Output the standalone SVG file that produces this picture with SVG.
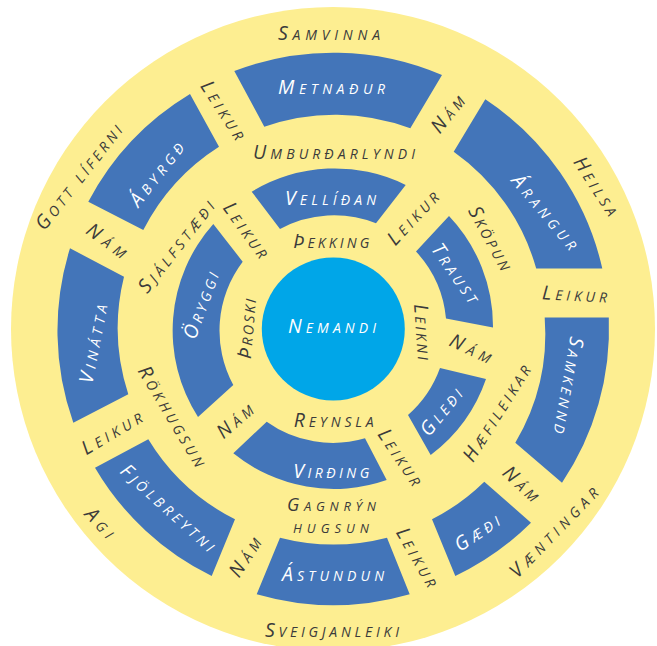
<svg xmlns="http://www.w3.org/2000/svg" width="657" height="646" viewBox="0 0 657 646">
<style>
.t{font-family:"Open Sans","DejaVu Sans",sans-serif;font-style:italic;font-variant:small-caps;font-size:19.5px;fill:#3b3b3b;text-anchor:middle;}
.w{fill:#ffffff;}
.s{font-size:18px;}
.seg{fill:#4375B9;}
</style>
<rect width="657" height="646" fill="#ffffff"/>
<circle id="outer-ring" cx="333" cy="329" r="322" fill="#FDEE91"/>

<g id="middle-ring">
<g id="metnadur"><path class="seg" d="M234.3,71 A276,276 0 0 1 442,75 L410.3,128.3 A214,214 0 0 0 264.3,126.7 Z"/>
<text class="t w" x="331.5" y="93.5" textLength="107">Metnaður</text></g>
<g id="arangur"><path class="seg" d="M485.3,99.3 A276,276 0 0 1 602.3,268.5 L536.2,268.5 A214,214 0 0 0 453.7,151.7 Z"/>
<text class="t w" transform="translate(544,213) rotate(50)" x="0" y="5" textLength="92">Árangur</text></g>
<g id="samkennd"><path class="seg" d="M608.8,317.5 A276,276 0 0 1 562,482.7 L515.3,442.7 A214,214 0 0 0 544.7,317.5 Z"/>
<text class="t w" transform="translate(567,385) rotate(100)" x="0" y="5" textLength="98">Samkennd</text></g>
<g id="gaedi"><path class="seg" d="M531,522.7 A276,276 0 0 1 455.3,576 L432,519.3 A214,214 0 0 0 484.3,481.7 Z"/>
<text class="t w" transform="translate(478,534) rotate(-34)" x="0" y="5" textLength="50">Gæði</text></g>
<g id="astundun"><path class="seg" d="M409.7,594.3 A276,276 0 0 1 256.7,594.3 L280,537.7 A214,214 0 0 0 387,537.7 Z"/>
<text class="t w" x="333" y="581" textLength="102">Ástundun</text></g>
<g id="fjolbreytni"><path class="seg" d="M211.7,576 A276,276 0 0 1 95,467.7 L148.3,439.3 A214,214 0 0 0 235,519.3 Z"/>
<text class="t w" transform="translate(167,509) rotate(42)" x="0" y="5" textLength="120">Fjölbreytni</text></g>
<g id="vinatta"><path class="seg" d="M73.3,422.7 A276,276 0 0 1 70,248.3 L124,276.7 A214,214 0 0 0 128.3,394.3 Z"/>
<text class="t w" transform="translate(95,344) rotate(-79)" x="0" y="5" textLength="80">Vinátta</text></g>
<g id="abyrgd"><path class="seg" d="M88.3,201.7 A276,276 0 0 1 190,94 L219,146.7 A214,214 0 0 0 143.3,230 Z"/>
<text class="t w" transform="translate(158,175) rotate(-52)" x="0" y="5" textLength="76">Ábyrgð</text></g>
</g>

<g id="inner-ring">
<g id="vellidan"><path class="seg" d="M251.7,191.7 A160,160 0 0 1 405.7,185 L376,223.3 A114,114 0 0 0 280,229 Z"/>
<text class="t w" x="330.5" y="204.5" textLength="91">Vellíðan</text></g>
<g id="traust"><path class="seg" d="M449,216 A160,160 0 0 1 493,327.5 L446,318.5 A114,114 0 0 0 416,251.5 Z"/>
<text class="t w" transform="translate(454,274) rotate(55)" x="0" y="5" textLength="68">Traust</text></g>
<g id="gledi"><path class="seg" d="M486,379 A160,160 0 0 1 430.7,455 L408,415 A114,114 0 0 0 440,368 Z"/>
<text class="t w" transform="translate(442.5,413) rotate(-51)" x="0" y="5" textLength="55">Gleði</text></g>
<g id="virding"><path class="seg" d="M386.7,480 A160,160 0 0 1 233.3,453.3 L266.7,421.7 A114,114 0 0 0 365,438.3 Z"/>
<text class="t w" x="331.2" y="478.3" textLength="76">Virðing</text></g>
<g id="oryggi"><path class="seg" d="M198,417 A160,160 0 0 1 213.3,224 L242.7,261.7 A114,114 0 0 0 233.3,385 Z"/>
<text class="t w" transform="translate(202.5,306) rotate(-70)" x="0" y="5" textLength="70">Öryggi</text></g>
</g>

<g id="nemandi">
<circle cx="333.3" cy="329" r="71.5" fill="#00A6E8"/>
<text class="t w" x="332" y="333" textLength="88">Nemandi</text>
</g>

<g id="outer-labels">
<text class="t" x="329" y="39.5" textLength="102">Samvinna</text>
<text class="t" transform="translate(595,187) rotate(57)" x="0" y="5" textLength="66">Heilsa</text>
<text class="t" transform="translate(555,533) rotate(-46)" x="0" y="5" textLength="118">Væntingar</text>
<text class="t" x="332" y="637" textLength="134">Sveigjanleiki</text>
<text class="t" transform="translate(99,524) rotate(47)" x="0" y="5" textLength="34">Agi</text>
<text class="t" transform="translate(80,178) rotate(-52)" x="0" y="5" textLength="128">Gott líferni</text>
</g>

<g id="middle-gap-labels">
<text class="t" transform="translate(222,111) rotate(57)" x="0" y="5" textLength="66">Leikur</text>
<text class="t" transform="translate(449,115) rotate(-51)" x="0" y="5" textLength="42">Nám</text>
<text class="t" transform="translate(574.5,296) rotate(3)" x="0" y="5" textLength="65">Leikur</text>
<text class="t" transform="translate(520,485) rotate(43)" x="0" y="5" textLength="42">Nám</text>
<text class="t" transform="translate(416,558) rotate(60)" x="0" y="5" textLength="65">Leikur</text>
<text class="t" transform="translate(246.5,558) rotate(-57)" x="0" y="5" textLength="43">Nám</text>
<text class="t" transform="translate(112.5,434) rotate(-31)" x="0" y="5" textLength="67">Leikur</text>
<text class="t" transform="translate(106,242) rotate(36)" x="0" y="5" textLength="45">Nám</text>
</g>

<g id="band-labels">
<text class="t" x="334" y="158.5" textLength="162">Umburðarlyndi</text>
<text class="t" transform="translate(489,239) rotate(61)" x="0" y="5" textLength="70">Sköpun</text>
<text class="t" transform="translate(498,414) rotate(-58)" x="0" y="5" textLength="110">Hæfileikar</text>
<text class="t s"><tspan x="331.5" y="511" textLength="89">Gagnrýn</tspan><tspan x="331" y="533" textLength="76">hugsun</tspan></text>
<text class="t" transform="translate(171,417) rotate(59)" x="0" y="5" textLength="114">Rökhugsun</text>
<text class="t" transform="translate(177.5,247.5) rotate(-52)" x="0" y="5" textLength="111">Sjálfstæði</text>
</g>

<g id="inner-gap-labels">
<text class="t" transform="translate(245,231) rotate(54)" x="0" y="5" textLength="64">Leikur</text>
<text class="t" transform="translate(414,219) rotate(-47)" x="0" y="5" textLength="66">Leikur</text>
<text class="t" transform="translate(470,350) rotate(25)" x="0" y="5" textLength="44">Nám</text>
<text class="t" transform="translate(399,458) rotate(56)" x="0" y="5" textLength="64">Leikur</text>
<text class="t" transform="translate(236,422) rotate(-41)" x="0" y="5" textLength="42">Nám</text>
<text class="t" x="331.3" y="248" textLength="76">Þekking</text>
<text class="t" transform="translate(421,332) rotate(86)" x="0" y="5" textLength="56">Leikni</text>
<text class="t" x="333.7" y="427.3" textLength="80">Reynsla</text>
<text class="t" transform="translate(248.5,329) rotate(-85)" x="0" y="5" textLength="60">Þroski</text>
</g>
</svg>
